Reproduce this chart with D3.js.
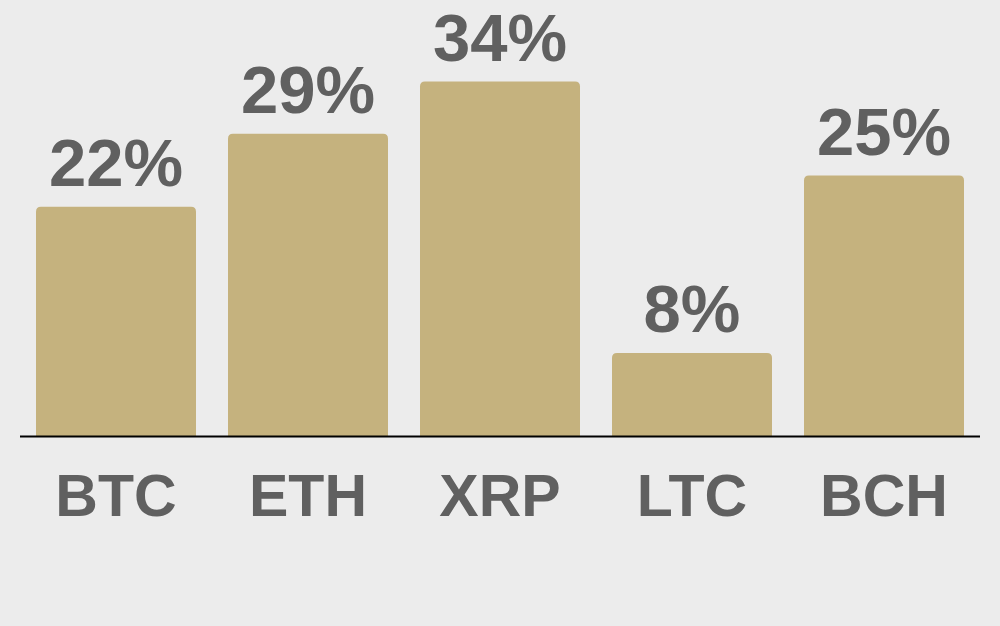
<!DOCTYPE html>
<html>
<head>
<meta charset="utf-8">
<script src="https://cdn.jsdelivr.net/npm/d3@7"></script>
<style>
  body { margin: 0; background: #ececec; }
  svg { display: block; }
  text { font-family: "Liberation Sans", Arial, sans-serif; font-weight: bold; fill: #606060; }
</style>
</head>
<body>
<div id="chart"></div>
<script>
// coin names and share values (%)
const coins = ["BTC", "ETH", "XRP", "LTC", "BCH"];
const shares = [22, 29, 34, 8, 25];

const width = 1000;
const height = 626;
const baseY = 436.5;

var svg = d3.select("#chart").append("svg")
    .attr("width", width)
    .attr("height", height);

svg.append("rect")
    .attr("width", width)
    .attr("height", height)
    .attr("fill", "#ececec");

var x = d3.scaleBand()
    .domain(coins)
    .range([20, 980])
    .paddingInner(32 / 192)
    .paddingOuter(16 / 192);

// about 10.44px per percent
var y = d3.scaleLinear()
    .domain([0, 40])
    .range([baseY, baseY - 417.6]);

var data = coins.map(function(c, i) { return {coin: c, value: shares[i]}; });

// bars with rounded top corners
svg.selectAll(".bar")
    .data(data)
    .enter()
    .append("path")
    .attr("class", "bar")
    .attr("fill", "#c5b27e")
    .attr("d", function(d) {
        var x0 = x(d.coin), w = x.bandwidth(), t = y(d.value), r = 5;
        return "M" + x0 + "," + baseY +
            "V" + (t + r) +
            "Q" + x0 + "," + t + " " + (x0 + r) + "," + t +
            "H" + (x0 + w - r) +
            "Q" + (x0 + w) + "," + t + " " + (x0 + w) + "," + (t + r) +
            "V" + baseY + "Z";
    });

// value labels
svg.selectAll(".val")
    .data(data)
    .enter()
    .append("text")
    .attr("class", "val")
    .attr("x", function(d) { return x(d.coin) + x.bandwidth() / 2; })
    .attr("y", function(d) { return y(d.value) - 21; })
    .attr("text-anchor", "middle")
    .style("font-size", "67px")
    .text(function(d) { return d.value + "%"; });

// baseline
svg.append("line")
    .attr("x1", 20)
    .attr("x2", 980)
    .attr("y1", baseY)
    .attr("y2", baseY)
    .attr("stroke", "#000")
    .attr("stroke-width", 2);

// category labels
svg.selectAll(".cat")
    .data(coins)
    .enter()
    .append("text")
    .attr("class", "cat")
    .attr("x", function(d) { return x(d) + x.bandwidth() / 2; })
    .attr("y", 516)
    .attr("text-anchor", "middle")
    .style("font-size", "59px")
    .text(function(d) { return d; });
</script>
</body>
</html>
